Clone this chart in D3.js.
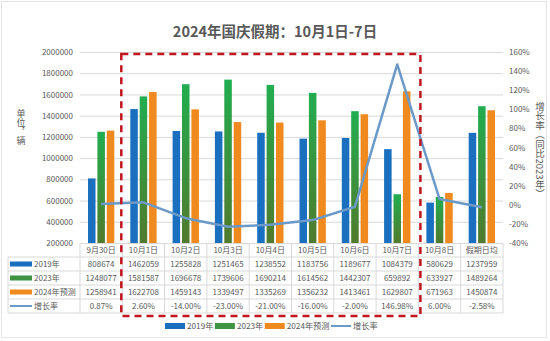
<!DOCTYPE html>
<html>
<head>
<meta charset="utf-8">
<script src="https://cdn.jsdelivr.net/npm/d3@7"></script>
<style>
  html, body { margin: 0; padding: 0; background: #fff; }
  svg { display: block; font-family: "Noto Sans CJK SC", "Noto Sans", sans-serif; }
  .vtitle { writing-mode: vertical-rl; text-orientation: mixed; }
</style>
</head>
<body>
<svg id="chart" width="550" height="341"></svg>
<script>
// Daily traffic volume around the 2024 National Day holiday (unit: vehicles)
const categories = ["9月30日", "10月1日", "10月2日", "10月3日", "10月4日", "10月5日", "10月6日", "10月7日", "10月8日", "假期日均"];
const values2019 = [808674, 1462059, 1255828, 1251465, 1238552, 1183756, 1189677, 1084379, 580629, 1237959];
const values2023 = [1248077, 1581587, 1696678, 1739606, 1690214, 1614562, 1442307, 659892, 633927, 1489264];
const values2024 = [1258941, 1622708, 1459143, 1339497, 1335269, 1356232, 1413461, 1629807, 671963, 1450874];
const growth = [0.87, 2.60, -14.00, -23.00, -21.00, -16.00, -2.00, 146.98, 6.00, -2.58];
const seriesNames = ["2019年", "2023年", "2024年预测", "增长率"];
const leftTicks = [200000, 400000, 600000, 800000, 1000000, 1200000, 1400000, 1600000, 1800000, 2000000];
const rightTicks = [-40, -20, 0, 20, 40, 60, 80, 100, 120, 140, 160];

const svg = d3.select("#chart");
const textColor = "#595959";
const gridColor = "#D9D9D9";
const colors = { blue: "#1A6FBF", orange: "#F0891E", line: "#6B9AC8", red: "#C0161E" };

const plot = { left: 80, right: 503, top: 52, bottom: 243 };

const x = d3.scaleBand().domain(categories).range([plot.left, plot.right]);
const sub = d3.scaleBand().domain([0, 1, 2]).range([8, x.bandwidth() - 8]).paddingInner(0.2);
const y = d3.scaleLinear().domain([200000, 2000000]).range([plot.bottom, plot.top]);
const yR = d3.scaleLinear().domain([-40, 160]).range([plot.bottom, plot.top]);

// green bars fade from bright green to olive
const defs = svg.append("defs");
const grad = defs.append("linearGradient").attr("id", "greenGrad")
  .attr("x1", 0).attr("y1", 0).attr("x2", 0).attr("y2", 1);
grad.append("stop").attr("offset", "0%").attr("stop-color", "#22AD50");
grad.append("stop").attr("offset", "100%").attr("stop-color", "#517A2D");

// outer frame
svg.append("rect").attr("x", 1.5).attr("y", 1.5).attr("width", 545).attr("height", 336)
  .attr("fill", "#fff").attr("stroke", "#E3E3E3");

// title
svg.append("text").attr("x", 275).attr("y", 37).attr("text-anchor", "middle")
  .attr("font-size", 14.5).attr("font-weight", "bold").attr("fill", textColor)
  .text("2024年国庆假期：10月1日-7日");

// gridlines
svg.append("g").attr("transform", `translate(${plot.left},0)`)
  .call(d3.axisLeft(y).tickValues(leftTicks).tickSize(-(plot.right - plot.left)).tickFormat(""))
  .call(g => g.select(".domain").remove())
  .call(g => g.selectAll("line").attr("stroke", gridColor).attr("stroke-width", 1));

// left axis labels
svg.append("g").attr("transform", `translate(${plot.left - 7},0)`)
  .call(d3.axisLeft(y).tickValues(leftTicks).tickSize(0).tickPadding(0).tickFormat(d3.format("d")))
  .call(g => g.select(".domain").remove())
  .call(g => g.selectAll("text").attr("fill", textColor).attr("font-size", 8)
    .attr("font-family", "\"Noto Sans CJK SC\", sans-serif"));

// right axis labels
svg.append("g").attr("transform", `translate(${plot.right + 6},0)`)
  .call(d3.axisRight(yR).tickValues(rightTicks).tickSize(0).tickPadding(0).tickFormat(d => d + "%"))
  .call(g => g.select(".domain").remove())
  .call(g => g.selectAll("text").attr("fill", textColor).attr("font-size", 8)
    .attr("font-family", "\"Noto Sans CJK SC\", sans-serif"));

// vertical axis titles
svg.append("text").attr("class", "vtitle").attr("x", 21).attr("y", 127)
  .attr("text-anchor", "middle").attr("font-size", 9).attr("fill", textColor)
  .text("单位，辆");
svg.append("text").attr("class", "vtitle").attr("x", 540).attr("y", 150)
  .attr("text-anchor", "middle").attr("font-size", 9.5).attr("fill", textColor)
  .text("增长率（同比2023年）");

// bars
const barSeries = [
  { values: values2019, fill: colors.blue },
  { values: values2023, fill: "url(#greenGrad)" },
  { values: values2024, fill: colors.orange }
];
barSeries.forEach((s, i) => {
  svg.append("g").selectAll("rect").data(categories).join("rect")
    .attr("x", d => x(d) + sub(i))
    .attr("width", sub.bandwidth())
    .attr("y", (d, j) => y(s.values[j]))
    .attr("height", (d, j) => plot.bottom - y(s.values[j]))
    .attr("fill", s.fill);
});

// growth-rate line
const line = d3.line()
  .x((d, j) => x(categories[j]) + x.bandwidth() / 2)
  .y(d => yR(d));
svg.append("path").datum(growth).attr("d", line)
  .attr("fill", "none").attr("stroke", colors.line).attr("stroke-width", 2.5)
  .attr("stroke-linejoin", "round");

// data table under the plot
const rowH = 14;
const tableTop = plot.bottom;
const tableLeft = 8;
const rows = [
  { name: seriesNames[0], key: "bar", color: colors.blue, fmt: d => d, values: values2019 },
  { name: seriesNames[1], key: "bar", color: "#3E9443", fmt: d => d, values: values2023 },
  { name: seriesNames[2], key: "bar", color: colors.orange, fmt: d => d, values: values2024 },
  { name: seriesNames[3], key: "line", color: colors.line, fmt: d => d.toFixed(2) + "%", values: growth }
];
const table = svg.append("g");
const nRows = rows.length + 1;
const tableBottom = tableTop + nRows * rowH;
const cellFont = 8;

// horizontal rules
for (let r = 1; r <= nRows; r++) {
  table.append("line")
    .attr("x1", tableLeft).attr("x2", plot.right)
    .attr("y1", tableTop + r * rowH).attr("y2", tableTop + r * rowH)
    .attr("stroke", gridColor);
}
// vertical rules
categories.concat(["end"]).forEach((c, i) => {
  const xx = i < categories.length ? x(c) : plot.right;
  table.append("line").attr("x1", xx).attr("x2", xx)
    .attr("y1", tableTop).attr("y2", tableBottom).attr("stroke", gridColor);
});
table.append("line").attr("x1", tableLeft).attr("x2", tableLeft)
  .attr("y1", tableTop + rowH).attr("y2", tableBottom).attr("stroke", gridColor);

// header row
table.selectAll("text.head").data(categories).join("text")
  .attr("class", "head")
  .attr("x", d => x(d) + x.bandwidth() / 2).attr("y", tableTop + rowH / 2 + 3)
  .attr("text-anchor", "middle").attr("font-size", cellFont).attr("fill", textColor)
  .text(d => d);

// body rows
rows.forEach((row, r) => {
  const cy = tableTop + (r + 1) * rowH + rowH / 2;
  if (row.key === "bar") {
    table.append("rect").attr("x", 10).attr("y", cy - 2.5).attr("width", 22).attr("height", 5)
      .attr("fill", row.color);
  } else {
    table.append("line").attr("x1", 10).attr("x2", 32).attr("y1", cy).attr("y2", cy)
      .attr("stroke", row.color).attr("stroke-width", 2);
  }
  table.append("text").attr("x", 34).attr("y", cy + 3).attr("font-size", cellFont)
    .attr("fill", textColor).text(row.name);
  table.selectAll(null).data(row.values).join("text")
    .attr("x", (d, j) => x(categories[j]) + x.bandwidth() / 2).attr("y", cy + 3)
    .attr("text-anchor", "middle").attr("font-size", cellFont).attr("fill", textColor)
    .text(row.fmt);
});

// dashed highlight around the holiday days 10月1日–10月7日
const hlLeft = x("10月1日") - 1;
const hlRight = x("10月8日") + 2;
svg.append("rect").attr("x", hlLeft).attr("y", plot.top + 2)
  .attr("width", hlRight - hlLeft).attr("height", tableBottom + 3 - (plot.top + 2))
  .attr("fill", "none").attr("stroke", colors.red).attr("stroke-width", 2.5)
  .attr("stroke-dasharray", "7,5");

// legend
const legendItems = [
  { name: seriesNames[0], key: "bar", color: colors.blue },
  { name: seriesNames[1], key: "bar", color: "#3E9443" },
  { name: seriesNames[2], key: "bar", color: colors.orange },
  { name: seriesNames[3], key: "line", color: colors.line }
];
const legend = svg.append("g").attr("transform", "translate(165,326)");
let lx = 0;
legendItems.forEach(item => {
  if (item.key === "bar") {
    legend.append("rect").attr("x", lx).attr("y", -3).attr("width", 20).attr("height", 6).attr("fill", item.color);
  } else {
    legend.append("line").attr("x1", lx).attr("x2", lx + 20).attr("y1", 0).attr("y2", 0)
      .attr("stroke", item.color).attr("stroke-width", 2);
  }
  const t = legend.append("text").attr("x", lx + 22).attr("y", 3).attr("font-size", 8.2)
    .attr("fill", textColor).text(item.name);
  lx += 22 + t.node().getComputedTextLength() + 1.5;
});
</script>
</body>
</html>
